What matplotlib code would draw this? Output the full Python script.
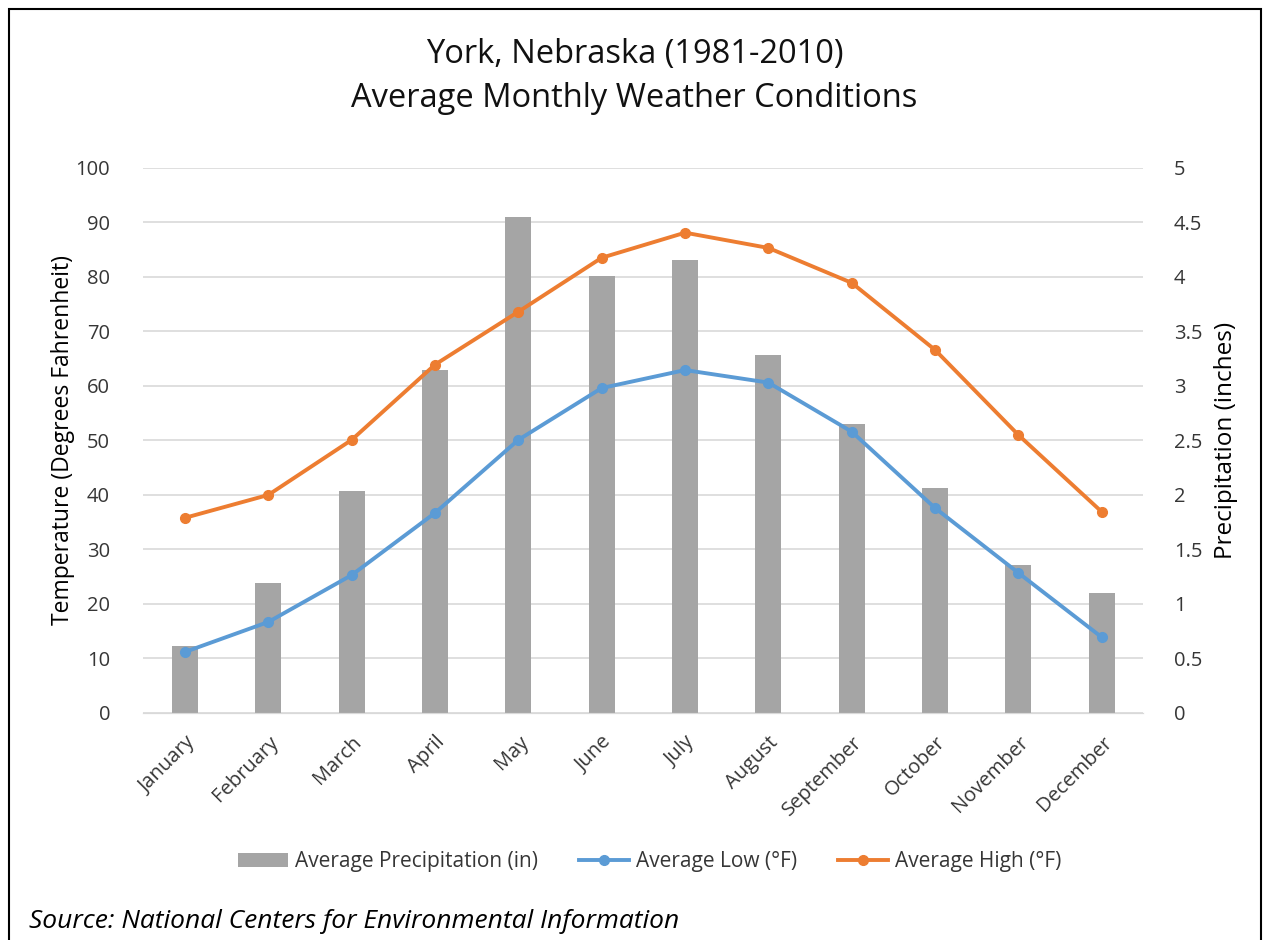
import numpy as np
import matplotlib.pyplot as plt
from matplotlib.patches import Rectangle
from matplotlib.ticker import FormatStrFormatter

months = ['January', 'February', 'March', 'April', 'May', 'June', 'July',
          'August', 'September', 'October', 'November', 'December']
precip = [0.61, 1.19, 2.04, 3.15, 4.55, 4.01, 4.15, 3.28, 2.65, 2.06, 1.36, 1.10]
low = [11.2, 16.7, 25.3, 36.7, 50.1, 59.6, 62.9, 60.6, 51.6, 37.6, 25.7, 13.9]
high = [35.8, 40.0, 50.1, 63.9, 73.6, 83.5, 88.1, 85.3, 78.9, 66.6, 51.0, 36.9]

plt.rcParams['font.family'] = ['Open Sans', 'DejaVu Sans']
txt = '#363636'

fig = plt.figure(figsize=(12.69, 9.4), dpi=100)
ax = fig.add_axes([0.113, 0.2415, 0.788, 0.580])
ax2 = ax.twinx()

x = np.arange(len(months))

# bars on the precipitation axis, drawn behind the lines
ax2.bar(x, precip, width=0.31, color='#a5a5a5', label='Average Precipitation (in)', zorder=1)
ax2.set_ylim(0, 5)
ax2.set_yticks(np.arange(0, 5.01, 0.5))
ax2.yaxis.set_major_formatter(FormatStrFormatter('%g'))
ax2.set_ylabel('Precipitation (inches)', fontsize=17.5, color='black', labelpad=8)

ax.set_zorder(ax2.get_zorder() + 1)
ax.patch.set_visible(False)
ax.plot(x, low, color='#5b9bd5', lw=2.8, marker='o', ms=7, label='Average Low (°F)')
ax.plot(x, high, color='#ed7d31', lw=2.8, marker='o', ms=7, label='Average High (°F)')
ax.set_ylim(0, 100)
ax.set_yticks(range(0, 101, 10))
ax.set_xlim(-0.5, 11.5)
ax.set_xticks(x)
ax.set_xticklabels(months, rotation=45, ha='right', rotation_mode='anchor', fontsize=13.5, color=txt)
ax.set_ylabel('Temperature (Degrees Fahrenheit)', fontsize=16.5, color='black', labelpad=0)

for a in (ax, ax2):
    for s in ['top', 'left', 'right']:
        a.spines[s].set_visible(False)
    a.spines['bottom'].set_color('#d9d9d9')
    a.tick_params(length=0, labelsize=14.5, labelcolor=txt)
ax.tick_params(axis='y', pad=24)
ax2.tick_params(axis='y', pad=22)
ax.tick_params(axis='x', pad=14)
ax2.yaxis.grid(True, color='#d9d9d9', lw=1.2)
ax2.set_axisbelow(True)

fig.suptitle('York, Nebraska (1981-2010)\nAverage Monthly Weather Conditions',
             y=0.96, fontsize=23.5, color='#111111', linespacing=1.45)

h1, l1 = ax2.get_legend_handles_labels()
h2, l2 = ax.get_legend_handles_labels()
fig.legend(h1 + h2, l1 + l2, loc='center', bbox_to_anchor=(0.512, 0.083), ncol=3,
           frameon=False, fontsize=15, handlelength=2.4, handletextpad=0.3,
           columnspacing=2.0, labelcolor=txt)

fig.text(0.023, 0.013, 'Source: National Centers for Environmental Information',
         fontsize=19, style='italic', color='black')

fig.patches.append(Rectangle((0.007, -0.01), 0.987, 1.0, transform=fig.transFigure,
                             fill=False, edgecolor='black', lw=1.5))

fig.savefig('out.png', dpi=100)
